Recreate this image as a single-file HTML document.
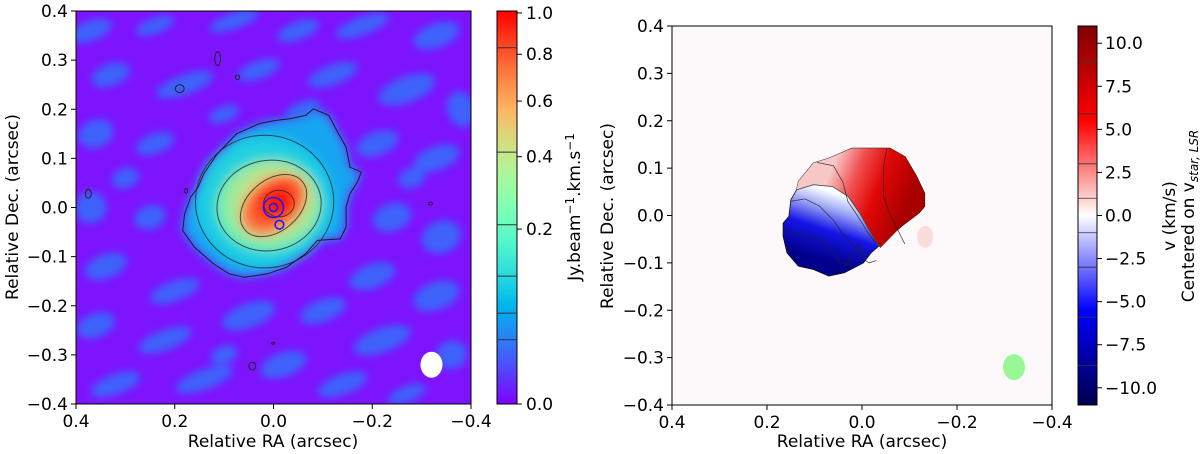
<!DOCTYPE html>
<html><head><meta charset="utf-8"><style>
html,body{margin:0;padding:0;background:#fff;}
svg{display:block;font-family:"DejaVu Sans","Liberation Sans",sans-serif;}
</style></head><body>
<svg id="fig" width="1200" height="454" viewBox="0 0 1200 454" xmlns="http://www.w3.org/2000/svg">
<defs>
<filter id="blurL" x="-20%" y="-20%" width="140%" height="140%"><feGaussianBlur stdDeviation="5"/></filter>
<filter id="blurN" x="-50%" y="-50%" width="200%" height="200%"><feGaussianBlur stdDeviation="4"/></filter>
<clipPath id="clipL"><rect x="76" y="11" width="395" height="393"/></clipPath>
<linearGradient id="cbL" x1="0" y1="1" x2="0" y2="0"></linearGradient>
<linearGradient id="cbR" x1="0" y1="1" x2="0" y2="0">
<stop offset="0" stop-color="#00004d"/><stop offset="0.25" stop-color="#0000ff"/><stop offset="0.5" stop-color="#ffffff"/><stop offset="0.75" stop-color="#ff0000"/><stop offset="1" stop-color="#800000"/>
</linearGradient>
<radialGradient id="c2G" cx="0.5" cy="0.5" r="0.5">
<stop offset="0" stop-color="#50ecc8"/><stop offset="1" stop-color="#18c8e6"/>
</radialGradient>
<radialGradient id="c3G" cx="0.55" cy="0.45" r="0.55">
<stop offset="0" stop-color="#e8c070"/><stop offset="0.5" stop-color="#c8e088"/><stop offset="1" stop-color="#70f0b0"/>
</radialGradient>
<radialGradient id="coreG" cx="0.55" cy="0.45" r="0.55">
<stop offset="0" stop-color="#ff1a08"/><stop offset="0.45" stop-color="#ff4020"/><stop offset="0.8" stop-color="#fa7a40"/><stop offset="1" stop-color="#f5a060"/>
</radialGradient>
</defs>
</svg>
<script>
// ---------- data ----------
const xTicks = [0.4, 0.2, 0.0, -0.2, -0.4];
const yTicks = [0.4, 0.3, 0.2, 0.1, 0.0, -0.1, -0.2, -0.3, -0.4];
const cbLTicks = [0.0, 0.2, 0.4, 0.6, 0.8, 1.0];
const cbLLevels = [0.027, 0.054, 0.107, 0.21, 0.415, 0.83];
const cbLMax = 1.01;
const cbRTicks = [-10.0, -7.5, -5.0, -2.5, 0.0, 2.5, 5.0, 7.5, 10.0];
const cbRLevels = [-8.7, -5.9, -3.0, -1.0, 1.0, 3.0, 5.9, 9.0];
const cbRMin = -11, cbRMax = 11;
const outerRA = [-0.081,-0.112,-0.128,-0.147,-0.155,-0.178,-0.170,-0.155,-0.147,-0.147,-0.135,-0.089,-0.065,-0.026,0.012,0.059,0.090,0.121,0.160,0.184,0.180,0.168,0.153,0.141,0.114,0.075,0.028,-0.003,-0.034,-0.065];
const outerDec = [0.201,0.1875,0.157,0.123,0.082,0.072,0.052,0.028,0.001,-0.040,-0.064,-0.067,-0.094,-0.122,-0.135,-0.142,-0.135,-0.115,-0.081,-0.047,-0.013,0.021,0.041,0.069,0.109,0.150,0.171,0.177,0.181,0.1875];
const innerCx = [0.018, 0.009, 0.000, -0.011];
const innerCy = [0.012, 0.004, 0.004, 0.008];
const innerRx = [0.140, 0.106, 0.076, 0.031];
const innerRy = [0.135, 0.092, 0.052, 0.027];
const innerRot = [0, -10, -40, 0];
const innerFill = ["url(#c2G)", "url(#c3G)", "url(#coreG)", "#ff1208"];
const isoRA = [0.113, 0.073, 0.190, 0.375, 0.177, -0.318, 0.043, 0.001];
const isoDec = [0.303, 0.265, 0.242, 0.028, 0.034, 0.008, -0.323, -0.276];
const isoRx = [0.006, 0.004, 0.009, 0.006, 0.003, 0.004, 0.007, 0.003];
const isoRy = [0.014, 0.005, 0.008, 0.009, 0.005, 0.003, 0.008, 0.002];
const velRA = [0.134,0.102,0.070,0.021,-0.059,-0.091,-0.115,-0.132,-0.132,-0.120,-0.083,-0.043,-0.019,-0.003,0.037,0.070,0.102,0.134,0.158,0.166,0.166,0.154,0.150,0.138];
const velDec = [0.072,0.111,0.121,0.142,0.142,0.124,0.083,0.047,0.019,0.005,-0.023,-0.058,-0.079,-0.100,-0.121,-0.128,-0.114,-0.107,-0.079,-0.044,-0.016,-0.002,0.033,0.054];
const divRA = [0.138,0.102,0.062,0.029,0.005,-0.011,-0.027,-0.039];
const divDec = [0.054,0.065,0.061,0.040,0.005,-0.023,-0.051,-0.068];
const redRA = [-0.083,-0.120,-0.132,-0.132,-0.115,-0.091,-0.059,0.021,0.070,0.102,0.134];
const redDec = [-0.023,0.005,0.019,0.047,0.083,0.124,0.142,0.142,0.121,0.111,0.072];
const velLineRA = [[0.095,0.060,0.040,0.030,0.010,-0.015,-0.030],[0.150,0.120,0.090,0.060,0.040,0.010,-0.010],[0.165,0.130,0.090,0.060,0.045,0.020],[0.035,0.020,0.010,0.005,0.000,-0.015,-0.030],[-0.052,-0.045,-0.045,-0.060,-0.075,-0.090]];
const velLineDec = [[0.112,0.105,0.070,0.030,0.000,-0.040,-0.060],[0.030,0.035,0.020,-0.010,-0.040,-0.070,-0.080],[-0.030,-0.040,-0.050,-0.080,-0.100,-0.105],[-0.105,-0.085,-0.065,-0.060,-0.090,-0.100,-0.095],[0.140,0.100,0.040,0.000,-0.030,-0.060]];

// ---------- axes ----------
const xL = v => 76 + (0.4 - v) / 0.8 * 395;
const yL = v => 11 + (0.4 - v) / 0.8 * 393;
const xR = v => 672 + (0.4 - v) / 0.8 * 380;
const yR = v => 26 + (0.4 - v) / 0.8 * 379;
const cbLy = v => 404 - Math.sqrt(Math.max(v,0) / cbLMax) * 393;
const cbRy = v => 405 - (v - cbRMin) / (cbRMax - cbRMin) * 379;
const FS = 17;

const NS = "http://www.w3.org/2000/svg";
const svg = document.getElementById("fig");
function mk(tag, attrs, parent) {
  const e = document.createElementNS(NS, tag);
  for (const k in attrs) e.setAttribute(k, attrs[k]);
  (parent || svg).appendChild(e);
  return e;
}
function txt(s, x, y, size, anchor, parent, extra) {
  const t = mk("text", Object.assign({x: x, y: y, "font-size": size, "text-anchor": anchor, fill: "#000"}, extra || {}), parent);
  t.textContent = s;
  return t;
}
function polyPts(ra, dec, fx, fy) { return ra.map((r, i) => fx(r).toFixed(1) + "," + fy(dec[i]).toFixed(1)).join(" "); }
function rainbow(x) {
  const r = Math.abs(2 * x - 0.5), g = Math.sin(Math.PI * x), b = Math.cos(Math.PI * x / 2);
  const c = v => Math.round(Math.min(1, Math.max(0, v)) * 255);
  return "rgb(" + c(r) + "," + c(g) + "," + c(b) + ")";
}

// ===== LEFT PANEL =====
const gL = mk("g", {"clip-path": "url(#clipL)"});


mk("rect", {x: 76, y: 11, width: 395, height: 393, fill: "#7d14fd"}, gL);
const noise = mk("g", {filter: "url(#blurN)", opacity: "0.8"}, gL);


const npts = [[0.37,0.36,22,10],[0.24,0.37,20,8],[0.08,0.38,26,8],[-0.05,0.36,22,9],[-0.18,0.37,28,9],[-0.33,0.35,24,12],
[0.33,0.27,20,11],[0.18,0.25,30,10],[0.03,0.28,22,9],[-0.12,0.27,26,10],[-0.27,0.24,30,13],[-0.38,0.2,14,18],
[0.36,0.15,18,14],[0.24,0.13,20,10],[-0.21,0.13,22,12],[-0.33,0.1,24,12],[0.37,0.0,16,16],[0.25,-0.02,16,12],
[-0.24,-0.02,20,14],[-0.34,-0.06,20,16],[0.34,-0.12,22,12],[0.2,-0.17,26,10],[-0.2,-0.14,24,12],[-0.33,-0.18,24,14],
[0.36,-0.24,20,12],[0.22,-0.27,28,10],[0.05,-0.22,28,12],[-0.1,-0.21,24,11],[-0.22,-0.27,30,12],[-0.36,-0.3,16,14],
[0.32,-0.36,26,10],[0.14,-0.35,30,10],[-0.02,-0.32,24,12],[-0.14,-0.36,26,10],[-0.27,-0.38,20,8],[0.1,0.19,16,8],
[-0.06,0.2,18,8],[0.3,0.06,14,10],[-0.28,0.06,14,10],[0.1,-0.3,14,9]];
npts.forEach(p => {
  mk("ellipse", {cx: xL(p[0]), cy: yL(p[1]), rx: p[2], ry: p[3], fill: "rgb(45,118,250)", transform: "rotate(-20 " + xL(p[0]) + " " + yL(p[1]) + ")"}, noise);
});
const fillG = mk("g", {filter: "url(#blurL)"}, gL);
const of = mk("polygon", {points: polyPts(outerRA, outerDec, xL, yL), fill: "rgb(20,165,240)"}, fillG);


innerCx.forEach((c, i) => {
  const cx = xL(c), cy = yL(innerCy[i]);
  const e = mk("ellipse", {cx: cx, cy: cy, rx: innerRx[i] / 0.8 * 395, ry: innerRy[i] / 0.8 * 393, fill: innerFill[i], transform: "rotate(" + innerRot[i] + " " + cx + " " + cy + ")"}, fillG);
  
  
});
const cl = mk("polygon", {points: polyPts(outerRA, outerDec, xL, yL), fill: "none", stroke: "#1a1a2a", "stroke-width": 1}, gL);


innerCx.forEach((c, i) => {
  const cx = xL(c), cy = yL(innerCy[i]);
  const e = mk("ellipse", {cx: cx, cy: cy, rx: innerRx[i] / 0.8 * 395, ry: innerRy[i] / 0.8 * 393, fill: "none", stroke: "#222", "stroke-width": 1, "stroke-opacity": 0.75, transform: "rotate(" + innerRot[i] + " " + cx + " " + cy + ")"}, gL);
  
  
});
isoRA.forEach((r, i) => {
  const e = mk("ellipse", {cx: xL(r), cy: yL(isoDec[i]), rx: isoRx[i] / 0.8 * 395, ry: isoRy[i] / 0.8 * 393, fill: "none", stroke: "#222", "stroke-width": 1}, gL);
  
  
});
const sm1 = mk("circle", {cx: xL(0), cy: yL(0), r: 10, fill: "none", stroke: "#1a1aff", "stroke-width": 1.6}, gL);


const sm2 = mk("circle", {cx: xL(0), cy: yL(0), r: 4, fill: "none", stroke: "#1a1aff", "stroke-width": 1.6}, gL);


const sm3 = mk("circle", {cx: xL(-0.012), cy: yL(-0.035), r: 4.3, fill: "none", stroke: "#1a1aff", "stroke-width": 1.6}, gL);


const bmL = mk("ellipse", {cx: xL(-0.32), cy: yL(-0.32), rx: 11, ry: 13, fill: "#fff"}, gL);


const frL = mk("rect", {x: 76, y: 11, width: 395, height: 393, fill: "none", stroke: "#000", "stroke-width": 1});


xTicks.forEach(v => {
  mk("line", {x1: xL(v), x2: xL(v), y1: 404, y2: 409, stroke: "#000"});
  const t = txt(v.toFixed(1).replace("-", "\u2212"), xL(v), 427, FS, "middle");
  
  
});
yTicks.forEach(v => {
  mk("line", {x1: 71, x2: 76, y1: yL(v), y2: yL(v), stroke: "#000"});
  const t = txt(v.toFixed(1).replace("-", "\u2212"), 68, yL(v) + 6, FS, "end");
  
  
});
const xtL = txt("Relative RA (arcsec)", 273, 447, FS, "middle");


const ytL = txt("Relative Dec. (arcsec)", 0, 0, FS, "middle", svg, {transform: "translate(18 207) rotate(-90)"});


const gradL = document.getElementById("cbL");
for (let i = 0; i <= 20; i++) {
  const f = i / 20;
  mk("stop", {offset: f, "stop-color": rainbow(f)}, gradL);
}
const cbLrect = mk("rect", {x: 497, y: 11, width: 20, height: 393, fill: "url(#cbL)", stroke: "#000", "stroke-width": 1});


cbLLevels.forEach(v => {
  const l = mk("line", {x1: 497, x2: 517, y1: cbLy(v), y2: cbLy(v), stroke: "#333", "stroke-width": 1});
  
  
});
cbLTicks.forEach(v => {
  mk("line", {x1: 517, x2: 522, y1: cbLy(v), y2: cbLy(v), stroke: "#000"});
  const t = txt(v.toFixed(1), 526, cbLy(v) + 6, FS, "start");
  
  
});
const cbLt = mk("text", {x: 0, y: 0, "font-size": FS, "text-anchor": "middle", transform: "translate(580 207) rotate(-90)"});
cbLt.innerHTML = 'Jy.beam<tspan dy="-6" font-size="12">\u22121</tspan><tspan dy="6">.km.s</tspan><tspan dy="-6" font-size="12">\u22121</tspan>';



// ===== RIGHT PANEL =====
const gR = mk("g", {});


mk("rect", {x: 672, y: 26, width: 380, height: 379, fill: "#fdf9fa"}, gR);
const defs = svg.querySelector("defs");
const bg = mk("linearGradient", {id: "blueG", gradientUnits: "userSpaceOnUse", x1: xR(0.03), y1: yR(0.04), x2: xR(0.075), y2: yR(-0.10)}, defs);
[["0","#ffffff"],["0.25","#9aa4f4"],["0.55","#1515e6"],["1","#000088"]].forEach(s => mk("stop", {offset: s[0], "stop-color": s[1]}, bg));
const rg = mk("linearGradient", {id: "redG", gradientUnits: "userSpaceOnUse", x1: xR(0.07), y1: yR(0.085), x2: xR(-0.095), y2: yR(0.02)}, defs);
[["0","#f8c8c8"],["0.3","#f05050"],["0.6","#e00606"],["1","#a80000"]].forEach(s => mk("stop", {offset: s[0], "stop-color": s[1]}, rg));
const pinkBlob = mk("ellipse", {cx: xR(-0.133), cy: yR(-0.045), rx: 8, ry: 11, fill: "#fbdcdc"}, gR);


const blueP = mk("polygon", {points: polyPts(velRA, velDec, xR, yR), fill: "url(#blueG)", stroke: "#111", "stroke-width": 0.8}, gR);


const redP = mk("polygon", {points: polyPts(divRA.concat(redRA), divDec.concat(redDec), xR, yR), fill: "url(#redG)", stroke: "none"}, gR);


const divL = mk("polyline", {points: polyPts(divRA, divDec, xR, yR), fill: "none", stroke: "#444", "stroke-width": 0.8}, gR);


velLineRA.forEach((ra, i) => {
  const l = mk("polyline", {points: polyPts(ra, velLineDec[i], xR, yR), fill: "none", stroke: "#222", "stroke-width": 0.8, "stroke-opacity": 0.8}, gR);
  
  
});
const bmR = mk("ellipse", {cx: xR(-0.32), cy: yR(-0.32), rx: 11, ry: 13, fill: "#98f898"}, gR);


const frR = mk("rect", {x: 672, y: 26, width: 380, height: 379, fill: "none", stroke: "#000", "stroke-width": 1});


xTicks.forEach(v => {
  mk("line", {x1: xR(v), x2: xR(v), y1: 405, y2: 410, stroke: "#000"});
  const t = txt(v.toFixed(1).replace("-", "\u2212"), xR(v), 428, FS, "middle");
  
  
});
yTicks.forEach(v => {
  mk("line", {x1: 667, x2: 672, y1: yR(v), y2: yR(v), stroke: "#000"});
  const t = txt(v.toFixed(1).replace("-", "\u2212"), 664, yR(v) + 6, FS, "end");
  
  
});
const xtR = txt("Relative RA (arcsec)", 862, 447, FS, "middle");


const ytR = txt("Relative Dec. (arcsec)", 0, 0, FS, "middle", svg, {transform: "translate(613 216) rotate(-90)"});


const cbRrect = mk("rect", {x: 1078, y: 26, width: 19, height: 379, fill: "url(#cbR)", stroke: "#000", "stroke-width": 1});


cbRLevels.forEach(v => {
  const l = mk("line", {x1: 1078, x2: 1097, y1: cbRy(v), y2: cbRy(v), stroke: "#333", "stroke-width": 0.8});
  
  
});
cbRTicks.forEach(v => {
  mk("line", {x1: 1097, x2: 1102, y1: cbRy(v), y2: cbRy(v), stroke: "#000"});
  const t = txt(v.toFixed(1).replace("-", "\u2212"), 1105, cbRy(v) + 6, FS, "start");
  
  
});
const cbRt1 = txt("v (km/s)", 0, 0, FS, "middle", svg, {transform: "translate(1175 216) rotate(-90)"});


const cbRt2 = mk("text", {x: 0, y: 0, "font-size": FS, "text-anchor": "middle", transform: "translate(1194 216) rotate(-90)"});
cbRt2.innerHTML = 'Centered on v<tspan dy="4" font-size="12" font-style="italic">star, LSR</tspan>';


</script>
</body></html>
